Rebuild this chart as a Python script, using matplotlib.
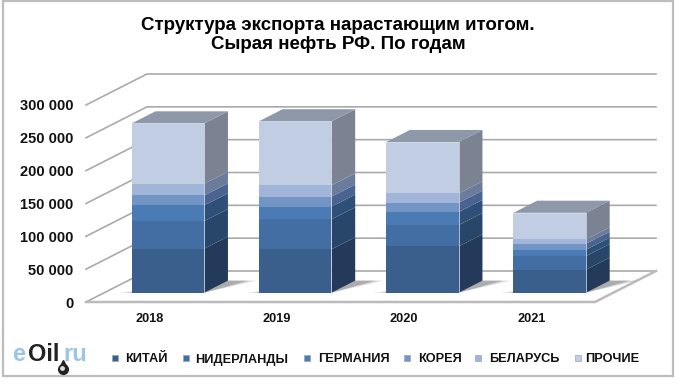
import matplotlib.pyplot as plt
from matplotlib.lines import Line2D
from matplotlib.patches import Polygon, Rectangle

plt.rcParams["font.family"] = ["Liberation Sans", "DejaVu Sans"]

years = ["2018", "2019", "2020", "2021"]
countries = ["КИТАЙ", "НИДЕРЛАНДЫ", "ГЕРМАНИЯ", "КОРЕЯ", "БЕЛАРУСЬ", "ПРОЧИЕ"]
china = [67000, 66000, 70500, 35000]
netherlands = [42000, 45700, 32500, 20800]
germany = [23900, 19300, 19800, 9600]
korea = [15200, 15200, 14200, 9100]
belarus = [17800, 17300, 14200, 6600]
other = [91900, 97500, 78200, 40600]
series = [china, netherlands, germany, korea, belarus, other]
y_ticks = [0, 50000, 100000, 150000, 200000, 250000, 300000]

front_colors = ["#3a5f8c", "#426ea3", "#4a7bb5", "#7395c6", "#a0b5d7", "#c1cde2"]
side_colors = ["#243a5a", "#27466a", "#2d4f78", "#4b6390", "#6a7b9c", "#7b8393"]
top_color = "#8f98a9"
grid_color = "#aaaaaa"

# legend layout, px from left: marker centre and text start
legend_marker_x = [115, 186, 307, 407, 478, 578]
legend_text_x = [125, 195, 318, 418, 489, 585]

# oblique projection of the depth axis, in data units
DX = 0.479
DY = 47200
BAR_W = 0.57
BAR_FRONT = 0.3
BAR_BACK = 0.69


def proj(x, v, d):
    return (x + d * DX, v + d * DY)


def poly(ax, pts, zorder, **kw):
    ax.add_patch(Polygon(pts, closed=True, clip_on=False, zorder=zorder, **kw))


def draw_box(ax, x0, x1, v0, v1, front, side, zorder):
    poly(ax, [proj(x1, v0, BAR_FRONT), proj(x1, v0, BAR_BACK),
              proj(x1, v1, BAR_BACK), proj(x1, v1, BAR_FRONT)],
         zorder, facecolor=side, edgecolor="none")
    poly(ax, [proj(x0, v0, BAR_FRONT), proj(x1, v0, BAR_FRONT),
              proj(x1, v1, BAR_FRONT), proj(x0, v1, BAR_FRONT)],
         zorder + 0.1, facecolor=front, edgecolor="none")


fig = plt.figure(figsize=(6.8, 3.84), dpi=100)
ax = fig.add_axes([86 / 680, 82 / 384, 509 / 680, 197 / 384])
ax.set_xlim(-0.5, 3.5)
ax.set_ylim(0, 300000)
for s in ax.spines.values():
    s.set_visible(False)
ax.patch.set_visible(False)

ax.set_xticks(range(len(years)))
ax.set_xticklabels(years, fontsize=9.2, fontweight="bold", color="#111111")
ax.set_yticks(y_ticks)
ax.set_yticklabels([f"{t:,}".replace(",", " ") for t in y_ticks],
                   fontsize=10.5, fontweight="bold", color="#111111")
ax.tick_params(axis="x", length=0, pad=8)
ax.tick_params(axis="y", length=0, pad=9)

# walls and floor
for t in y_ticks:
    ax.plot(*zip(proj(-0.5, t, 0), proj(-0.5, t, 1), proj(3.5, t, 1)),
            color=grid_color, lw=1.2, clip_on=False, zorder=1)
ax.plot(*zip(proj(-0.5, 0, 0), proj(3.5, 0, 0), proj(3.5, 0, 1)),
        color="#bbbbbb", lw=1.8, clip_on=False, zorder=1.5)

# bars
for i in range(len(years)):
    x0 = i - BAR_W / 2
    x1 = i + BAR_W / 2
    for a, sw in ((0.2, 0.1), (0.3, 0.04)):
        poly(ax, [proj(x0 - sw, 0, BAR_FRONT), proj(x1, 0, BAR_FRONT),
                  proj(x1 + sw + 0.12, 0, BAR_BACK), proj(x1, 0, BAR_BACK)],
             2, facecolor="#444444", alpha=a, edgecolor="none")
    z = 3 + i
    bottom = 0
    for vals, fc, sc in zip(series, front_colors, side_colors):
        draw_box(ax, x0, x1, bottom, bottom + vals[i], fc, sc, z)
        bottom += vals[i]
    poly(ax, [proj(x0, bottom, BAR_FRONT), proj(x1, bottom, BAR_FRONT),
              proj(x1, bottom, BAR_BACK), proj(x0, bottom, BAR_BACK)],
         z + 0.1, facecolor=top_color, edgecolor="none")
    ax.plot(*zip(proj(x0, bottom, BAR_FRONT), proj(x1, bottom, BAR_FRONT),
                 proj(x1, 0, BAR_FRONT)),
            color="#d4dcec", lw=0.7, alpha=0.8, clip_on=False, zorder=z + 0.2)

# title
fig.text(338 / 680, 1 - 35 / 384, "Структура экспорта нарастающим итогом.\nСырая нефть РФ. По годам",
         ha="center", va="center", fontsize=13.5, fontweight="bold", color="black",
         linespacing=1.12)

# legend, placed by hand so all the labels share a baseline
for name, color, mx, tx in zip(countries, front_colors, legend_marker_x, legend_text_x):
    fig.add_artist(Line2D([mx / 680], [1 - 358 / 384], linestyle="none", marker="s", markersize=4.2,
                          markerfacecolor=color, markeredgecolor="#9aa5b5", markeredgewidth=0.5,
                          transform=fig.transFigure))
    fig.text(tx / 680, 1 - 362.5 / 384, name, ha="left", va="baseline", fontsize=9.2,
             fontweight="bold", color="#111111")

# logo
fig.text(12 / 680, 1 - 361 / 384, "e", fontsize=17, color="#9cc4e4", fontweight="bold")
fig.text(28 / 680, 1 - 361 / 384, "Oil", fontsize=17, color="#222222", fontweight="bold")
fig.text(63 / 680, 1 - 361 / 384, "ru", fontsize=17, color="#9cc4e4", fontweight="bold")
fig.add_artist(Line2D([63 / 680], [1 - 363 / 384], marker="^", markersize=5, color="#222222",
                      transform=fig.transFigure))
fig.add_artist(Line2D([63 / 680], [1 - 369 / 384], marker="o", markersize=7, color="#222222",
                      transform=fig.transFigure))
fig.add_artist(Line2D([62 / 680], [1 - 368 / 384], marker="o", markersize=2.5, color="#dddddd",
                      transform=fig.transFigure))

# frame
fig.add_artist(Rectangle((3 / 680, 1 - 376 / 384), 670 / 680, 375 / 384, fill=False,
                         edgecolor="#bdbdbd", lw=1.6, transform=fig.transFigure))

fig.savefig("out.png", dpi=100)
